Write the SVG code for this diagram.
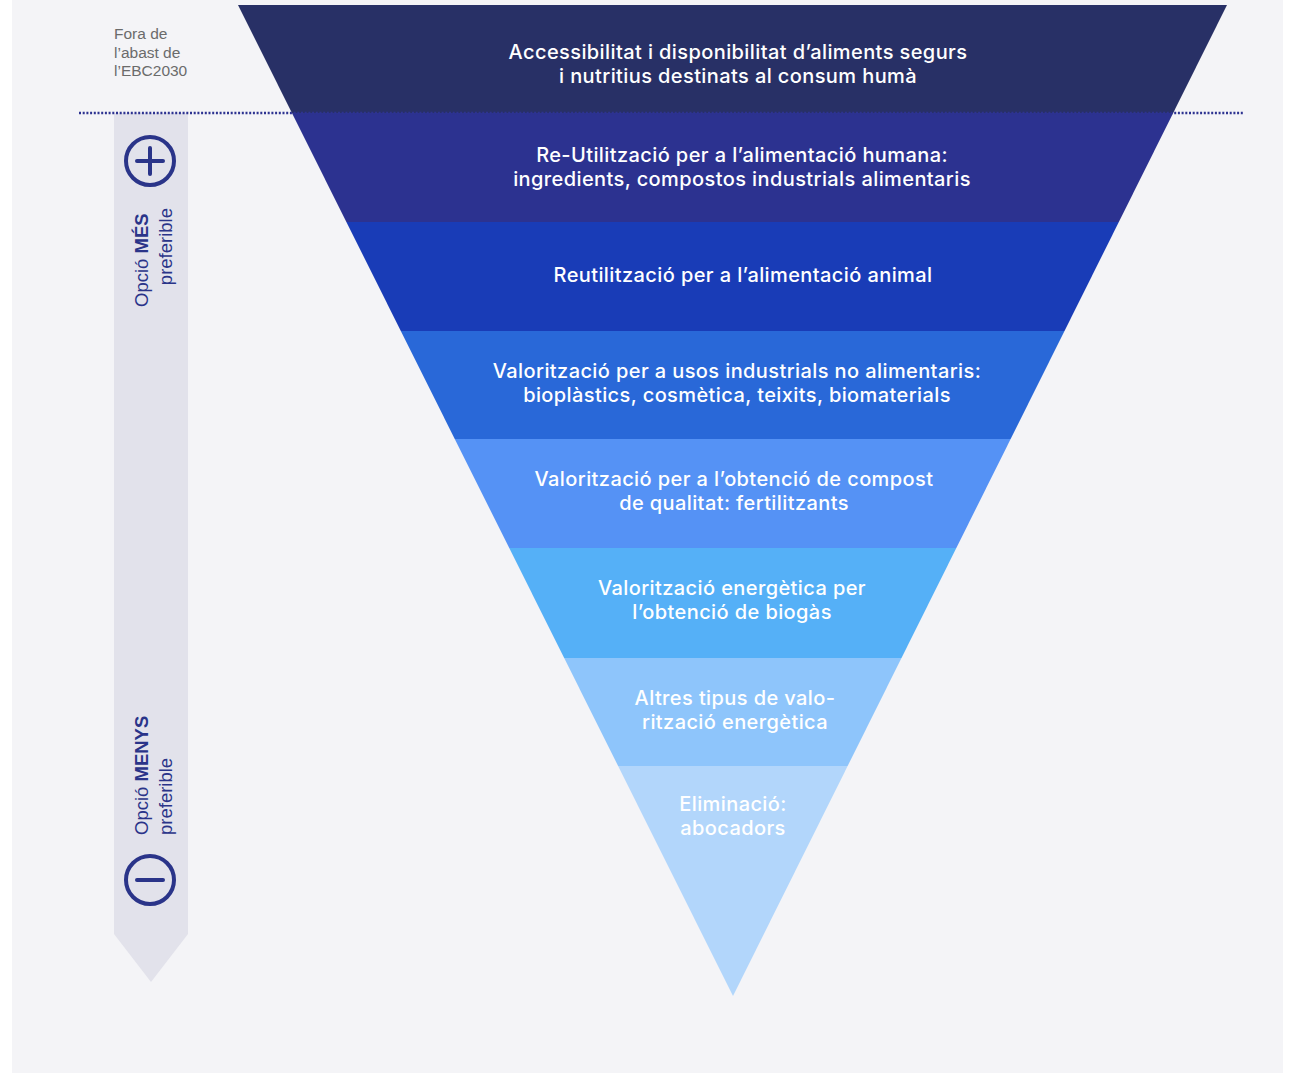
<svg xmlns="http://www.w3.org/2000/svg" width="1290" height="1073" viewBox="0 0 1290 1073">
<style>
.lbl{font-family:Inter,"Liberation Sans",Arial,sans-serif;font-size:20px;letter-spacing:0.4px;font-weight:500;fill:#ffffff;text-anchor:middle}
.side{font-family:"Liberation Sans",Arial,sans-serif;font-size:18.5px;fill:#2a3489}
.note{font-family:"Liberation Sans",Arial,sans-serif;font-size:15.5px;fill:#6b6b6b}
.icon{fill:none;stroke:#2a3489;stroke-width:4;stroke-linecap:round}
</style>
<defs>
<clipPath id="tri"><polygon points="238,5 1227,5 733,996"/></clipPath>
</defs>
<rect x="0" y="0" width="1290" height="1073" fill="#ffffff"/>
<rect x="12" y="0" width="1271" height="1073" fill="#f4f4f7"/>
<g id="scale">
<polygon points="114,113 188,113 188,934 151,982 114,934" fill="#e2e2eb"/>
<g id="plus"><circle cx="150" cy="161" r="24" class="icon"/><line x1="137" y1="161" x2="163" y2="161" class="icon"/><line x1="150" y1="148" x2="150" y2="174" class="icon"/></g>
<g id="minus"><circle cx="150" cy="880" r="24" class="icon"/><line x1="137" y1="880" x2="163" y2="880" class="icon"/></g>
<text class="side" transform="translate(148,307) rotate(-90)">Opció <tspan font-weight="bold">MÉS</tspan></text>
<text class="side" transform="translate(172,208) rotate(-90)" text-anchor="end">preferible</text>
<text class="side" transform="translate(148,835) rotate(-90)">Opció <tspan font-weight="bold">MENYS</tspan></text>
<text class="side" transform="translate(172,835) rotate(-90)">preferible</text>
</g>
<g id="note"><text class="note"><tspan x="114" y="39">Fora de</tspan><tspan x="114" y="57.5">l’abast de</tspan><tspan x="114" y="76">l’EBC2030</tspan></text></g>
<g clip-path="url(#tri)">
<g id="band1"><rect x="200" y="5" width="1100" height="108" fill="#283066"/><text class="lbl"><tspan x="738" y="59">Accessibilitat i disponibilitat d’aliments segurs</tspan><tspan x="738" y="82.5">i nutritius destinats al consum humà</tspan></text></g>
<g id="band2"><rect x="200" y="113" width="1100" height="109" fill="#2c3290"/><text class="lbl"><tspan x="742" y="162">Re-Utilització per a l’alimentació humana:</tspan><tspan x="742" y="185.5">ingredients, compostos industrials alimentaris</tspan></text></g>
<g id="band3"><rect x="200" y="222" width="1100" height="109" fill="#193cb7"/><text class="lbl" x="743" y="282">Reutilització per a l’alimentació animal</text></g>
<g id="band4"><rect x="200" y="331" width="1100" height="108" fill="#2968d8"/><text class="lbl"><tspan x="737" y="378">Valorització per a usos industrials no alimentaris:</tspan><tspan x="737" y="401.5">bioplàstics, cosmètica, teixits, biomaterials</tspan></text></g>
<g id="band5"><rect x="200" y="439" width="1100" height="109" fill="#5592f5"/><text class="lbl"><tspan x="734" y="486">Valorització per a l’obtenció de compost</tspan><tspan x="734" y="509.5">de qualitat: fertilitzants</tspan></text></g>
<g id="band6"><rect x="200" y="548" width="1100" height="110" fill="#55b0f7"/><text class="lbl"><tspan x="732" y="595">Valorització energètica per</tspan><tspan x="732" y="618.5">l’obtenció de biogàs</tspan></text></g>
<g id="band7"><rect x="200" y="658" width="1100" height="108" fill="#8ec5fb"/><text class="lbl"><tspan x="735" y="705">Altres tipus de valo-</tspan><tspan x="735" y="728.5">rització energètica</tspan></text></g>
<g id="band8"><rect x="200" y="766" width="1100" height="240" fill="#b2d6fb"/><text class="lbl"><tspan x="733" y="811">Eliminació:</tspan><tspan x="733" y="834.5">abocadors</tspan></text></g>
</g>
<g id="connectors">
<line x1="79" y1="113" x2="1243" y2="113" stroke="#2d3391" stroke-width="2.4" stroke-dasharray="2 1.7"/>
</g>
</svg>
